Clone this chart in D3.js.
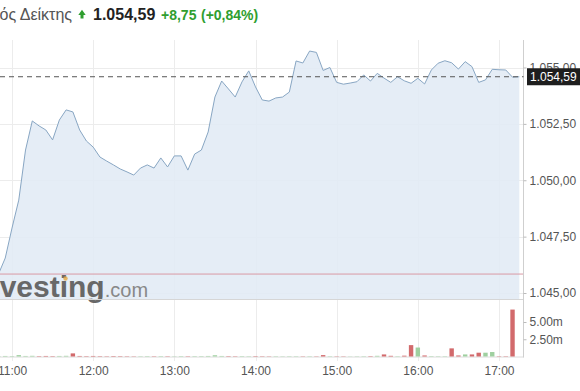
<!DOCTYPE html>
<html>
<head>
<meta charset="utf-8">
<script src="https://cdn.jsdelivr.net/npm/d3@7"></script>
<style>
  html, body { margin: 0; padding: 0; background: #fff; }
  svg { display: block; font-family: "Liberation Sans", Arial, sans-serif; }
  .axis text { fill: #555; font-size: 12px; }
</style>
</head>
<body>
<svg id="chart" width="580" height="391"></svg>
<script>
// 5-minute points, index close
const times = [
  "10:50", "10:55", "11:00", "11:05", "11:10", "11:15", "11:20", "11:25", "11:30", "11:35",
  "11:40", "11:45", "11:50", "11:55", "12:00", "12:05", "12:10", "12:15", "12:20", "12:25",
  "12:30", "12:35", "12:40", "12:45", "12:50", "12:55", "13:00", "13:05", "13:10", "13:15",
  "13:20", "13:25", "13:30", "13:35", "13:40", "13:45", "13:50", "13:55", "14:00", "14:05",
  "14:10", "14:15", "14:20", "14:25", "14:30", "14:35", "14:40", "14:45", "14:50", "14:55",
  "15:00", "15:05", "15:10", "15:15", "15:20", "15:25", "15:30", "15:35", "15:40", "15:45",
  "15:50", "15:55", "16:00", "16:05", "16:10", "16:15", "16:20", "16:25", "16:30", "16:35",
  "16:40", "16:45", "16:50", "16:55", "17:00", "17:05", "17:10", "17:15"
];
const prices = [
  1045.84, 1046.55, 1047.88, 1049.12, 1051.34, 1052.63, 1052.41, 1052.23, 1051.79, 1052.67,
  1053.12, 1053.03, 1052.23, 1051.74, 1051.47, 1051.03, 1050.85, 1050.68, 1050.50, 1050.37,
  1050.23, 1050.54, 1050.68, 1050.54, 1050.99, 1050.59, 1051.08, 1051.08, 1050.45, 1051.16,
  1051.34, 1052.14, 1053.69, 1054.40, 1054.05, 1053.69, 1054.36, 1054.85, 1054.14, 1053.56,
  1053.51, 1053.65, 1053.69, 1053.91, 1055.29, 1055.20, 1055.73, 1055.67, 1054.87, 1055.00,
  1054.34, 1054.26, 1054.31, 1054.37, 1054.67, 1054.40, 1054.74, 1054.53, 1054.34, 1054.59,
  1054.41, 1054.30, 1054.52, 1054.27, 1054.89, 1055.19, 1055.30, 1055.21, 1054.93, 1055.26,
  1055.04, 1054.34, 1054.45, 1054.92, 1054.90, 1054.89, 1054.57, 1054.59
];
// volume in millions
const volumes = [
  0.05, 0.08, 0.06, 0.20, 0.08, 0.10, 0.06, 0.08, 0.06, 0.08,
  0.10, 0.45, 0.08, 0.06, 0.08, 0.06, 0.05, 0.07, 0.06, 0.05,
  0.04, 0.05, 0.06, 0.05, 0.06, 0.05, 0.04, 0.06, 0.05, 0.06,
  0.06, 0.08, 0.18, 0.08, 0.06, 0.05, 0.06, 0.05, 0.06, 0.05,
  0.04, 0.05, 0.04, 0.05, 0.05, 0.04, 0.05, 0.04, 0.20, 0.05,
  0.04, 0.04, 0.03, 0.04, 0.05, 0.06, 0.10, 0.30, 0.10, 0.05,
  0.12, 1.65, 1.30, 0.15, 0.06, 0.05, 0.05, 1.18, 0.15, 0.30,
  0.30, 0.55, 0.55, 0.65, 0.05, 0.05, 6.80, 0
];
const hourTicks = ["11:00", "12:00", "13:00", "14:00", "15:00", "16:00", "17:00"];
const priceTicks = [1045, 1047.5, 1050, 1052.5, 1055];
const volumeTicks = [2.5, 5];
const prevClose = 1045.84;
const lastPrice = 1054.59;
const change = 8.75;
const changePct = 0.84;
const indexName = "Γενικός Δείκτης";

const toMin = (s) => { const [h, m] = s.split(":").map(Number); return h * 60 + m; };
const data = times.map((t, i) => ({
  t: toMin(t),
  price: prices[i],
  vol: volumes[i],
  up: i === 0 ? true : prices[i] >= prices[i - 1]
}));

const gr = d3.formatLocale({ decimal: ",", thousands: ".", grouping: [3], currency: ["", ""] });
const fmtPrice = gr.format(",.2f");
const fmtVol = (v) => d3.format(".2f")(v) + "m";

const svg = d3.select("#chart");
const W = 580;
const axisX = 523.5;
const paneTop = 40, paneBottom = 299, volBase = 356.5;

const x = d3.scaleLinear().domain([toMin("11:00"), toMin("17:00")]).range([12, 499]);
const y = d3.scaleLinear().domain([1045, 1055]).range([293, 67.5]);
const yv = d3.scaleLinear().domain([0, 5]).range([volBase, 322]);

// grid
const grid = svg.append("g").attr("stroke", "#ececec").attr("stroke-width", 1);
grid.selectAll(".vg").data(hourTicks).join("line")
  .attr("x1", d => Math.round(x(toMin(d))) + 0.5).attr("x2", d => Math.round(x(toMin(d))) + 0.5)
  .attr("y1", paneTop).attr("y2", 361);
grid.selectAll(".hg").data(priceTicks).join("line")
  .attr("x1", 0).attr("x2", axisX)
  .attr("y1", d => Math.round(y(d)) + 0.5).attr("y2", d => Math.round(y(d)) + 0.5);

// price area + line
const area = d3.area().x(d => x(d.t)).y0(paneBottom).y1(d => y(d.price));
const line = d3.line().x(d => x(d.t)).y(d => y(d.price));
svg.append("path").datum(data).attr("d", area).attr("fill", "#e2ebf5").attr("fill-opacity", 0.9);
svg.append("path").datum(data).attr("d", line)
  .attr("fill", "none").attr("stroke", "#88a6c3").attr("stroke-width", 1);

// previous close
svg.append("line")
  .attr("x1", 0).attr("x2", axisX)
  .attr("y1", y(prevClose)).attr("y2", y(prevClose))
  .attr("stroke", "#d99aa4").attr("stroke-width", 1);

// watermark
const wm = svg.append("text").attr("x", -27).attr("y", 297);
wm.append("tspan").text("Investing")
  .attr("font-size", 30).attr("font-weight", "bold").attr("fill", "#686868");
wm.append("tspan").text(".com")
  .attr("font-size", 20).attr("fill", "#888");
svg.append("circle").attr("cx", 65.5).attr("cy", 278.5).attr("r", 2.2).attr("fill", "#e6a640").attr("opacity", 0.8);

// pane borders
svg.append("line").attr("x1", 0).attr("x2", axisX).attr("y1", paneBottom + 0.5).attr("y2", paneBottom + 0.5)
  .attr("stroke", "#d6d6d6");
svg.append("line").attr("x1", 0).attr("x2", axisX).attr("y1", volBase + 0.5).attr("y2", volBase + 0.5)
  .attr("stroke", "#dcdcdc");
svg.append("line").attr("x1", axisX).attr("x2", axisX).attr("y1", paneTop).attr("y2", volBase + 1)
  .attr("stroke", "#cfcfcf");

// volume bars
svg.append("g").selectAll("rect").data(data.filter(d => d.vol > 0)).join("rect")
  .attr("x", d => x(d.t) - 2.2)
  .attr("width", 4.4)
  .attr("y", d => yv(d.vol))
  .attr("height", d => volBase - yv(d.vol))
  .attr("fill", d => d.up ? "#9fd0a0" : "#d26a6c");

// last price dashed line
svg.append("line")
  .attr("x1", 0).attr("x2", axisX)
  .attr("y1", y(lastPrice)).attr("y2", y(lastPrice))
  .attr("stroke", "#555").attr("stroke-dasharray", "5,4");

// price axis
const yAxis = d3.axisRight(y).tickValues(priceTicks).tickFormat(fmtPrice).tickSize(3).tickPadding(3);
const ya = svg.append("g").attr("class", "axis").attr("transform", `translate(${axisX},0)`).call(yAxis);
ya.select(".domain").remove();
ya.selectAll(".tick line").attr("stroke", "#bbb");

// volume axis
const vAxis = d3.axisRight(yv).tickValues(volumeTicks).tickFormat(fmtVol).tickSize(3).tickPadding(3);
const va = svg.append("g").attr("class", "axis").attr("transform", `translate(${axisX},0)`).call(vAxis);
va.select(".domain").remove();
va.selectAll(".tick line").attr("stroke", "#bbb");

// time axis
const xAxis = d3.axisBottom(x).tickValues(hourTicks.map(toMin))
  .tickFormat((d, i) => hourTicks[i]).tickSize(0).tickPadding(4);
const xa = svg.append("g").attr("class", "axis").attr("transform", `translate(0,${volBase + 6})`).call(xAxis);
xa.select(".domain").remove();

// last price tag
const tagY = y(lastPrice);
svg.append("rect").attr("x", 527).attr("y", tagY - 8.5).attr("width", W - 527).attr("height", 17).attr("fill", "#1e1e1e");
svg.append("text").attr("x", 530).attr("y", tagY).attr("dy", "0.35em")
  .attr("fill", "#fff").attr("font-size", 12).text(fmtPrice(lastPrice));

// header
const head = svg.append("g");
head.append("text").attr("x", 72).attr("y", 19.5).attr("text-anchor", "end")
  .attr("font-size", 16).attr("fill", "#555").text(indexName);
head.append("path")
  .attr("d", "M78.3,15 L82,9.8 L85.7,15 L83.5,15 L83.5,18.6 L80.5,18.6 L80.5,15 Z")
  .attr("fill", "#2f9e2f");
head.append("text").attr("x", 93).attr("y", 19.5)
  .attr("font-size", 16).attr("font-weight", "bold").attr("fill", "#222").text(fmtPrice(lastPrice));
head.append("text").attr("x", 161).attr("y", 19.5)
  .attr("font-size", 14).attr("font-weight", "bold").attr("fill", "#2f9e2f")
  .text("+" + gr.format(".2f")(change));
head.append("text").attr("x", 201).attr("y", 19.5)
  .attr("font-size", 14).attr("font-weight", "bold").attr("fill", "#2f9e2f")
  .text("(+" + gr.format(".2f")(changePct) + "%)");
</script>
</body>
</html>
